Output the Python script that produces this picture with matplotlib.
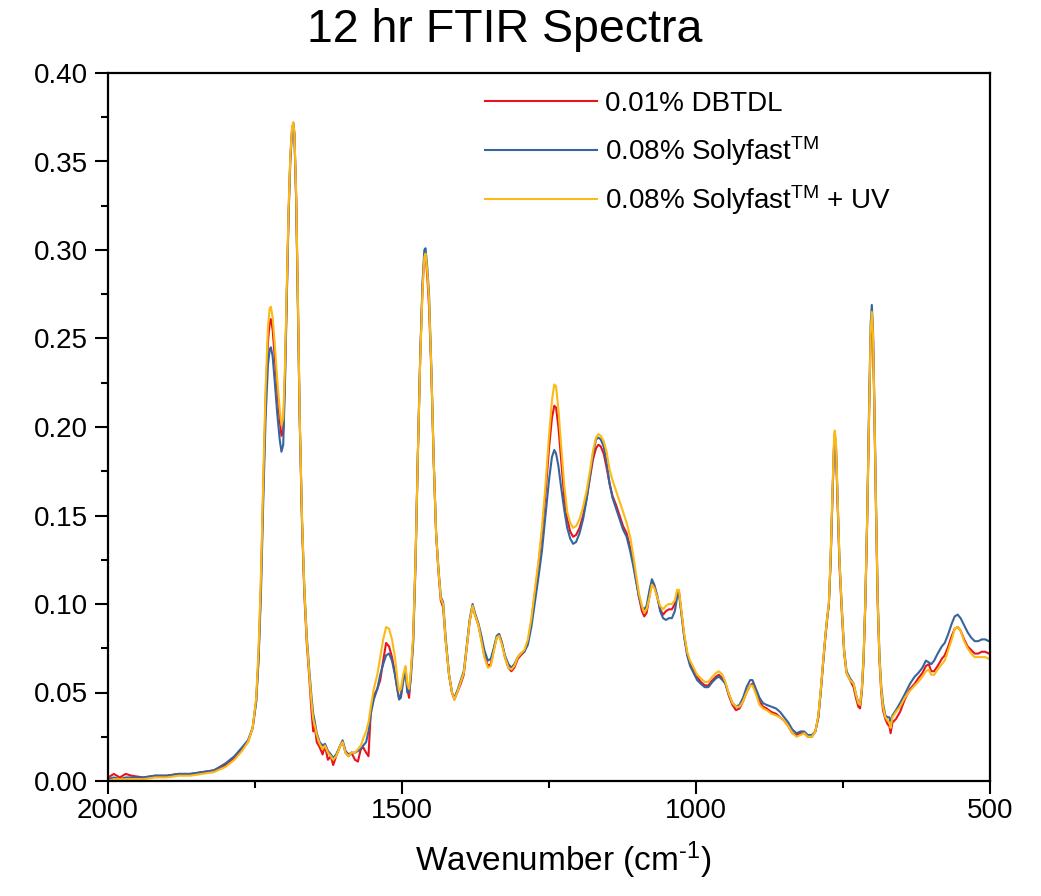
import matplotlib
matplotlib.use("Agg")
import matplotlib.pyplot as plt
from matplotlib.lines import Line2D
from matplotlib.ticker import MultipleLocator, FormatStrFormatter

plt.rcParams['font.family'] = ['Liberation Sans', 'DejaVu Sans']
plt.rcParams['mathtext.fontset'] = 'custom'
plt.rcParams['mathtext.rm'] = 'Liberation Sans'
plt.rcParams['mathtext.it'] = 'Liberation Sans:italic'

# (wavenumber, DBTDL, Solyfast, Solyfast+UV)
rows = [
(2000,0.002,0.001,0.000),(1990,0.004,0.002,0.001),(1980,0.002,0.001,0.001),(1970,0.004,0.002,0.001),
(1960,0.003,0.002,0.001),(1940,0.002,0.002,0.001),(1920,0.003,0.003,0.002),(1900,0.003,0.003,0.002),
(1880,0.004,0.004,0.003),(1860,0.004,0.004,0.003),(1840,0.005,0.005,0.004),(1820,0.006,0.006,0.005),
(1800,0.009,0.010,0.008),(1785,0.013,0.014,0.012),(1772,0.018,0.019,0.017),(1762,0.022,0.023,0.022),
(1754,0.030,0.030,0.030),(1748,0.045,0.045,0.047),(1744,0.070,0.068,0.074),(1740,0.110,0.105,0.115),
(1736,0.165,0.158,0.170),(1732,0.215,0.205,0.222),(1728,0.248,0.235,0.256),(1725,0.259,0.244,0.267),
(1723,0.261,0.245,0.268),(1720,0.255,0.240,0.262),(1716,0.238,0.224,0.245),(1712,0.220,0.207,0.226),
(1708,0.204,0.193,0.210),(1705,0.195,0.186,0.201),(1702,0.198,0.190,0.205),(1699,0.230,0.225,0.235),
(1696,0.275,0.272,0.278),(1693,0.320,0.318,0.322),(1690,0.352,0.350,0.353),(1687,0.368,0.367,0.369),
(1685,0.372,0.371,0.372),(1683,0.366,0.365,0.366),(1680,0.330,0.328,0.332),(1677,0.270,0.268,0.272),
(1674,0.205,0.205,0.207),(1670,0.145,0.147,0.148),(1666,0.105,0.108,0.108),(1662,0.078,0.082,0.080),
(1658,0.060,0.064,0.062),(1654,0.040,0.048,0.045),(1651,0.028,0.038,0.035),(1648,0.030,0.033,0.031),
(1645,0.022,0.027,0.026),(1640,0.019,0.022,0.021),(1635,0.015,0.020,0.018),(1631,0.020,0.021,0.020),
(1626,0.012,0.017,0.016),(1621,0.014,0.015,0.014),(1617,0.009,0.013,0.012),(1612,0.014,0.015,0.014),
(1605,0.020,0.020,0.020),(1601,0.022,0.023,0.022),(1596,0.016,0.017,0.016),(1591,0.014,0.015,0.014),
(1586,0.016,0.016,0.016),(1580,0.012,0.016,0.016),(1575,0.011,0.017,0.018),(1570,0.018,0.018,0.020),
(1566,0.019,0.020,0.024),(1561,0.016,0.022,0.028),(1557,0.014,0.028,0.033),(1553,0.040,0.038,0.042),
(1548,0.048,0.046,0.052),(1542,0.052,0.052,0.060),(1537,0.057,0.060,0.070),(1532,0.068,0.066,0.080),
(1527,0.078,0.071,0.087),(1522,0.076,0.072,0.086),(1517,0.070,0.068,0.080),(1512,0.061,0.060,0.070),
(1508,0.052,0.052,0.058),(1505,0.047,0.046,0.051),(1502,0.048,0.047,0.052),(1498,0.058,0.056,0.060),
(1494,0.064,0.062,0.065),(1491,0.052,0.050,0.055),(1488,0.047,0.050,0.052),(1485,0.060,0.058,0.062),
(1481,0.080,0.078,0.082),(1477,0.125,0.122,0.125),(1473,0.185,0.185,0.185),(1469,0.240,0.240,0.238),
(1465,0.280,0.282,0.278),(1462,0.296,0.300,0.296),(1460,0.298,0.301,0.298),(1457,0.285,0.290,0.288),
(1454,0.268,0.275,0.272),(1450,0.230,0.232,0.232),(1446,0.180,0.180,0.180),(1442,0.140,0.140,0.140),
(1438,0.118,0.120,0.119),(1434,0.102,0.104,0.103),(1430,0.098,0.101,0.100),(1426,0.080,0.082,0.080),
(1420,0.060,0.060,0.060),(1415,0.050,0.050,0.050),(1411,0.046,0.047,0.046),(1406,0.050,0.051,0.050),
(1400,0.055,0.057,0.056),(1395,0.060,0.062,0.061),(1390,0.075,0.076,0.075),(1385,0.090,0.091,0.090),
(1380,0.099,0.100,0.099),(1376,0.094,0.095,0.094),(1370,0.088,0.089,0.088),(1365,0.080,0.082,0.079),
(1360,0.071,0.074,0.070),(1354,0.065,0.068,0.064),(1349,0.066,0.069,0.065),(1344,0.074,0.075,0.073),
(1339,0.081,0.082,0.081),(1335,0.083,0.083,0.082),(1330,0.078,0.078,0.077),(1325,0.070,0.071,0.070),
(1319,0.064,0.066,0.064),(1314,0.062,0.064,0.063),(1309,0.064,0.066,0.065),(1303,0.069,0.070,0.070),
(1298,0.071,0.072,0.072),(1292,0.073,0.073,0.074),(1286,0.078,0.077,0.080),(1280,0.090,0.087,0.092),
(1274,0.106,0.101,0.108),(1268,0.122,0.115,0.124),(1262,0.140,0.130,0.143),(1256,0.162,0.150,0.167),
(1250,0.188,0.170,0.195),(1245,0.205,0.183,0.215),(1241,0.212,0.187,0.224),(1238,0.211,0.185,0.223),
(1234,0.200,0.178,0.210),(1229,0.180,0.165,0.188),(1224,0.160,0.153,0.167),(1219,0.148,0.143,0.152),
(1214,0.141,0.137,0.146),(1209,0.138,0.134,0.143),(1204,0.139,0.135,0.144),(1198,0.143,0.140,0.148),
(1192,0.150,0.148,0.155),(1186,0.160,0.159,0.164),(1180,0.172,0.173,0.176),(1175,0.182,0.185,0.187),
(1170,0.188,0.193,0.194),(1166,0.190,0.194,0.196),(1162,0.189,0.193,0.195),(1157,0.185,0.189,0.192),
(1152,0.177,0.180,0.186),(1147,0.168,0.168,0.176),(1142,0.161,0.160,0.170),(1136,0.156,0.154,0.164),
(1130,0.150,0.148,0.158),(1124,0.144,0.142,0.152),(1118,0.140,0.138,0.146),(1112,0.132,0.130,0.138),
(1107,0.124,0.122,0.128),(1102,0.114,0.113,0.117),(1097,0.104,0.104,0.106),(1092,0.096,0.098,0.099),
(1088,0.093,0.097,0.095),(1084,0.095,0.099,0.097),(1079,0.105,0.108,0.104),(1075,0.112,0.114,0.111),
(1071,0.110,0.111,0.109),(1066,0.104,0.105,0.104),(1061,0.097,0.096,0.099),(1056,0.094,0.092,0.097),
(1051,0.096,0.091,0.099),(1046,0.097,0.092,0.100),(1041,0.097,0.092,0.100),(1036,0.100,0.096,0.102),
(1032,0.106,0.104,0.108),(1029,0.107,0.106,0.108),(1025,0.096,0.095,0.097),(1020,0.082,0.081,0.083),
(1015,0.072,0.071,0.073),(1010,0.066,0.065,0.068),(1004,0.063,0.061,0.064),(998,0.059,0.057,0.060),
(992,0.056,0.055,0.058),(985,0.054,0.053,0.056),(979,0.054,0.053,0.056),(972,0.057,0.056,0.059),
(966,0.059,0.058,0.061),(961,0.060,0.059,0.062),(955,0.058,0.057,0.060),(950,0.055,0.055,0.056),
(944,0.048,0.049,0.049),(938,0.043,0.044,0.044),(932,0.040,0.042,0.042),(926,0.041,0.043,0.042),
(920,0.045,0.047,0.045),(914,0.050,0.053,0.050),(908,0.054,0.057,0.054),(904,0.055,0.057,0.054),
(898,0.050,0.052,0.049),(892,0.045,0.047,0.043),(886,0.042,0.044,0.041),(880,0.041,0.043,0.040),
(872,0.039,0.042,0.038),(864,0.038,0.041,0.037),(857,0.036,0.039,0.036),(850,0.034,0.036,0.034),
(843,0.031,0.033,0.031),(836,0.027,0.029,0.027),(829,0.026,0.027,0.025),(822,0.027,0.028,0.026),
(816,0.027,0.028,0.027),(810,0.025,0.026,0.025),(803,0.025,0.026,0.025),(797,0.028,0.028,0.028),
(792,0.036,0.036,0.037),(788,0.050,0.050,0.051),(784,0.066,0.066,0.067),(780,0.081,0.082,0.082),
(777,0.091,0.092,0.092),(774,0.100,0.100,0.101),(771,0.125,0.125,0.127),(768,0.160,0.160,0.163),
(765,0.192,0.192,0.196),(764,0.195,0.196,0.198),(762,0.188,0.190,0.192),(759,0.155,0.158,0.158),
(756,0.122,0.125,0.125),(752,0.095,0.098,0.097),(748,0.072,0.074,0.073),(744,0.061,0.062,0.061),
(738,0.057,0.058,0.057),(732,0.053,0.055,0.055),(728,0.047,0.049,0.049),(724,0.042,0.044,0.044),
(721,0.041,0.043,0.043),(718,0.050,0.052,0.052),(715,0.068,0.070,0.070),(712,0.100,0.102,0.102),
(709,0.145,0.147,0.147),(706,0.200,0.205,0.202),(703,0.250,0.258,0.254),(701,0.262,0.269,0.265),
(699,0.250,0.255,0.252),(697,0.215,0.220,0.218),(694,0.155,0.160,0.158),(691,0.100,0.104,0.102),
(688,0.068,0.071,0.070),(685,0.050,0.054,0.052),(682,0.040,0.044,0.042),(678,0.035,0.037,0.036),
(674,0.032,0.036,0.034),(671,0.031,0.036,0.033),(669,0.027,0.032,0.030),(666,0.033,0.037,0.036),
(660,0.035,0.040,0.039),(653,0.039,0.044,0.042),(645,0.046,0.049,0.047),(636,0.052,0.055,0.051),
(628,0.055,0.059,0.054),(622,0.058,0.061,0.056),(615,0.061,0.064,0.059),(609,0.065,0.068,0.062),
(604,0.066,0.067,0.063),(600,0.062,0.066,0.060),(595,0.062,0.068,0.060),(589,0.065,0.072,0.063),
(582,0.069,0.076,0.066),(577,0.071,0.078,0.068),(571,0.076,0.083,0.074),(565,0.082,0.089,0.080),
(560,0.086,0.093,0.086),(555,0.087,0.094,0.087),(550,0.085,0.092,0.085),(544,0.080,0.088,0.079),
(538,0.076,0.084,0.075),(532,0.074,0.081,0.072),(526,0.072,0.079,0.070),(520,0.072,0.079,0.070),
(514,0.073,0.080,0.070),(508,0.073,0.080,0.070),(502,0.072,0.079,0.069),(500,0.072,0.079,0.069),
]
wavenumber = [r[0] for r in rows]
dbtdl = [r[1] for r in rows]
solyfast = [r[2] for r in rows]
solyfast_uv = [r[3] for r in rows]

labels = ['0.01% DBTDL', r'0.08% Solyfast$^{\mathrm{TM}}$', r'0.08% Solyfast$^{\mathrm{TM}}$ + UV']
colors = ['#E8141C', '#36649E', '#FBBA16']

fig = plt.figure(figsize=(10.41, 8.96), dpi=100)
ax = fig.add_axes([108/1041, 1-781/896, (990-108)/1041, (781-73)/896])

for y, lab, c in zip([dbtdl, solyfast, solyfast_uv], labels, colors):
    ax.plot(wavenumber, y, color=c, lw=1.5, label=lab)

ax.set_xlim(2000, 500)
ax.set_ylim(0, 0.40)
ax.xaxis.set_major_locator(MultipleLocator(500))
ax.xaxis.set_minor_locator(MultipleLocator(250))
ax.yaxis.set_major_locator(MultipleLocator(0.05))
ax.yaxis.set_minor_locator(MultipleLocator(0.025))
ax.yaxis.set_major_formatter(FormatStrFormatter('%.2f'))
ax.tick_params(which='both', direction='out', width=1.5, top=False, right=False)
ax.tick_params(which='major', length=9.5)
ax.tick_params(which='minor', length=5)
ax.tick_params(axis='x', labelsize=20, pad=3)
ax.tick_params(axis='y', labelsize=20, pad=5)
for s in ax.spines.values():
    s.set_linewidth(1.6)

fig.text(505/1041, 1-30/896, '12 hr FTIR Spectra', ha='center', va='center', fontsize=33.5)
fig.text(563/1041, 1-860/896, 'Wavenumber (cm$^{\u20101}$)',
         ha='center', va='center', fontsize=24)

# legend (manual, evenly spaced rows like the reference)
row_y = [101, 150, 199]
for ry, lab, c in zip(row_y, labels, colors):
    fig.add_artist(Line2D([485/1041, 597/1041], [1-ry/896, 1-ry/896], color=c, lw=1.5,
                          transform=fig.transFigure))
    fig.text(605/1041, 1-(ry+10)/896, lab, ha='left', va='baseline', fontsize=20)

fig.savefig('out.png', dpi=100)
